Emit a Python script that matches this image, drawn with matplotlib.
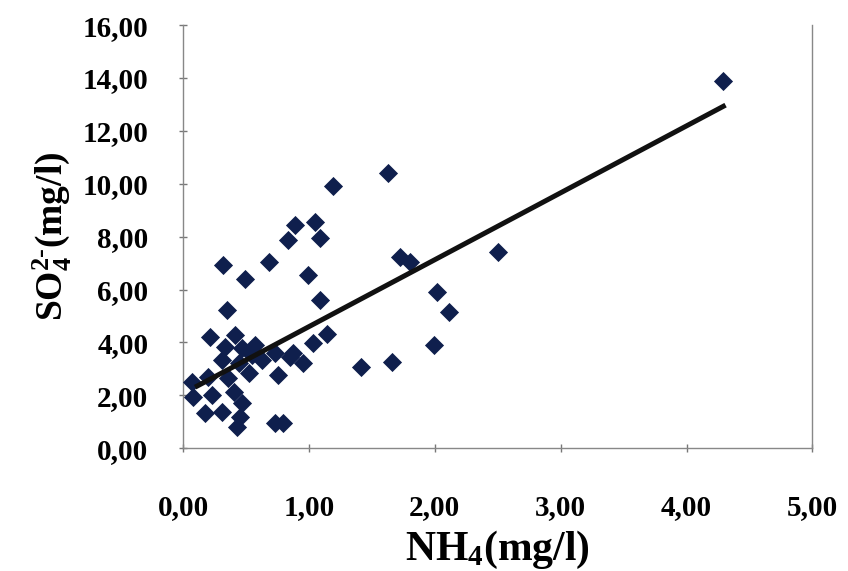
import matplotlib
matplotlib.use("Agg")
import matplotlib.pyplot as plt
import numpy as np

# NH4 (mg/l) and SO4 2- (mg/l) values
nh4 = [4.29, 1.63, 1.19, 0.89, 1.05, 0.835, 1.09, 0.32, 0.68, 0.49, 0.99,
       1.72, 1.80, 2.50, 2.02, 2.11, 1.99, 1.66, 1.41, 1.09, 0.35, 0.21,
       1.14, 1.03, 0.85, 0.95, 0.41, 0.33, 0.47, 0.57, 0.31, 0.44, 0.63,
       0.73, 0.87, 0.755, 0.07, 0.20, 0.36, 0.52, 0.08, 0.23, 0.40, 0.47,
       0.175, 0.31, 0.45, 0.43, 0.73, 0.79, 0.55]
so4 = [13.88, 10.40, 9.91, 8.43, 8.55, 7.87, 7.94, 6.92, 7.04, 6.39, 6.54,
       7.22, 7.03, 7.41, 5.90, 5.14, 3.90, 3.25, 3.06, 5.60, 5.22, 4.20,
       4.31, 3.97, 3.44, 3.21, 4.27, 3.82, 3.78, 3.90, 3.33, 3.21, 3.33,
       3.59, 3.59, 2.76, 2.50, 2.69, 2.65, 2.84, 1.93, 2.00, 2.12, 1.70,
       1.32, 1.36, 1.17, 0.79, 0.95, 0.95, 3.52]

# trend line as drawn in the chart (slope, intercept, x range)
trend_slope = 2.53
trend_intercept = 2.07
trend_x = [0.095, 4.31]

x_ticks = [0, 1, 2, 3, 4, 5]
y_ticks = [0, 2, 4, 6, 8, 10, 12, 14, 16]

plt.rcParams['font.family'] = ['Liberation Serif', 'DejaVu Serif']
plt.rcParams['font.weight'] = 'bold'
plt.rcParams['mathtext.fontset'] = 'custom'
plt.rcParams['mathtext.rm'] = 'Liberation Serif:bold'
plt.rcParams['mathtext.bf'] = 'Liberation Serif:bold'
plt.rcParams['mathtext.it'] = 'Liberation Serif:bold'

fig = plt.figure(figsize=(8.48, 5.71), dpi=100)
ax = fig.add_axes([0.216, 0.215, 0.742, 0.741])

ax.scatter(nh4, so4, marker='D', s=95, color='#0f1f4d', zorder=3, linewidths=0)

xl = np.array(trend_x)
ax.plot(xl, trend_slope * xl + trend_intercept, color='#111111', lw=3.6,
        zorder=4, solid_capstyle='butt')

ax.set_xlim(0, 5)
ax.set_ylim(0, 16)
ax.set_xticks(x_ticks)
ax.set_yticks(y_ticks)
ax.set_xticklabels([f"{v:.2f}".replace('.', ',') for v in x_ticks])
ax.set_yticklabels([f"{v:.2f}".replace('.', ',') for v in y_ticks])
ax.tick_params(axis='both', labelsize=21, colors='#777777', labelcolor='black',
               direction='inout', length=6, width=1)
ax.tick_params(axis='x', pad=30)
ax.tick_params(axis='y', pad=22)

for s in ['left', 'bottom', 'right']:
    ax.spines[s].set_color('#888888')
    ax.spines[s].set_linewidth(1)
ax.spines['top'].set_visible(False)

ax.set_xlabel(r'$\mathrm{NH_4(mg/l)}$', fontsize=30, labelpad=6)
ax.set_ylabel(r'$\mathrm{SO_4^{2\text{-}}(mg/l)}$', fontsize=27, labelpad=6)

fig.savefig('out.png', dpi=100)
